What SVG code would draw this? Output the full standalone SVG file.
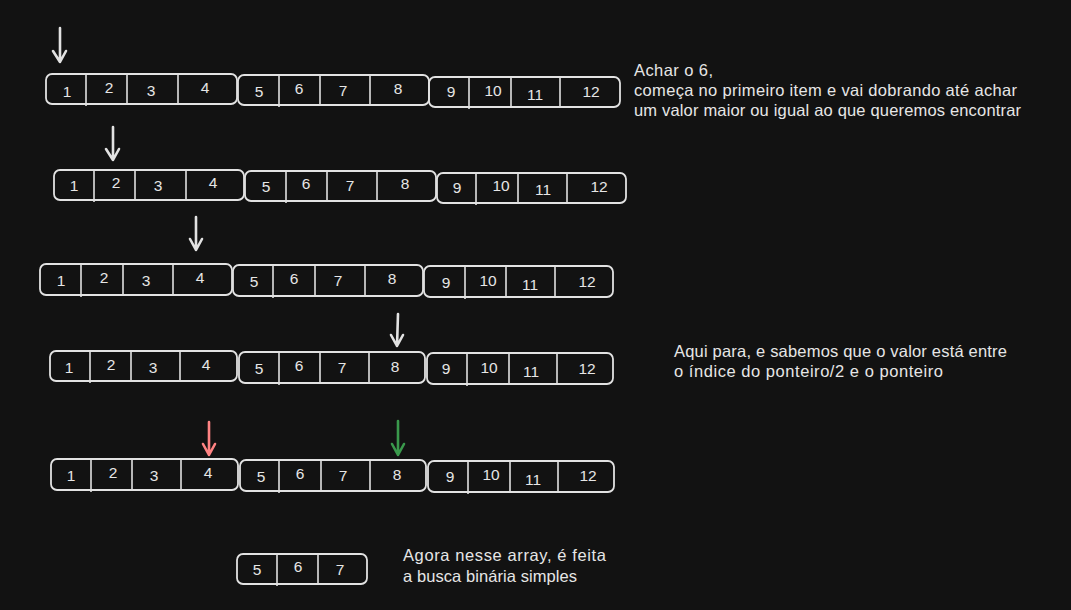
<svg xmlns="http://www.w3.org/2000/svg" width="1071" height="610" viewBox="0 0 1071 610">
<style>
.bx{fill:none;stroke:#e2e2e2;stroke-width:1.8}
.dv{stroke:#e2e2e2;stroke-width:1.6}
.n{font-family:"Liberation Sans",Arial,sans-serif;font-size:15.5px;fill:#e6e6e6;text-anchor:middle}
.t{font-family:"Liberation Sans",Arial,sans-serif;font-size:16.5px;fill:#e6e6e6}
.ar{fill:none;stroke-width:2.6;stroke-linecap:round;stroke-linejoin:round}
</style>
<rect width="1071" height="610" fill="#121212"/>
<g id="connectors">
<path class="ar" stroke="#e2e2e2" d="M60 28 L60 62 M53 51 L60 62 L66 51"/>
<path class="ar" stroke="#e2e2e2" d="M113 127 L113 160 M106 149 L113 160 L119 149"/>
<path class="ar" stroke="#e2e2e2" d="M196 217 L196 250 M190 239 L196 250 L202 239"/>
<path class="ar" stroke="#e2e2e2" d="M398 314 L397 346 M391 335 L397 346 L403 335"/>
<path class="ar" stroke="#ff8383" d="M209 422 L209 455 M203 444 L209 455 L215 444"/>
<path class="ar" stroke="#3a994c" d="M398 421 L398 455 M392 444 L398 455 L404 444"/>
</g>
<g id="row1">
<rect class="bx" x="46" y="74" width="191" height="30" rx="6"/>
<line class="dv" x1="86" y1="74" x2="86" y2="106"/><line class="dv" x1="127" y1="74" x2="127" y2="104"/><line class="dv" x1="178" y1="74" x2="178" y2="104"/>
<rect class="bx" x="238" y="75" width="191" height="30" rx="6"/>
<line class="dv" x1="279" y1="75" x2="279" y2="107"/><line class="dv" x1="320" y1="75" x2="320" y2="105"/><line class="dv" x1="370" y1="75" x2="370" y2="105"/>
<rect class="bx" x="429" y="77" width="191" height="30" rx="6"/>
<line class="dv" x1="469" y1="77" x2="469" y2="109"/><line class="dv" x1="511" y1="77" x2="511" y2="107"/><line class="dv" x1="560" y1="77" x2="560" y2="107"/>
<text class="n" x="67" y="97">1</text><text class="n" x="109" y="93">2</text><text class="n" x="151" y="96">3</text><text class="n" x="205" y="93">4</text>
<text class="n" x="259" y="97">5</text><text class="n" x="299" y="94">6</text><text class="n" x="343" y="96">7</text><text class="n" x="398" y="94">8</text>
<text class="n" x="451" y="97">9</text><text class="n" x="493" y="96">10</text><text class="n" x="535" y="100">11</text><text class="n" x="591" y="97">12</text>
</g>
<g id="row2">
<rect class="bx" x="54" y="170" width="190" height="30" rx="6"/>
<line class="dv" x1="94" y1="170" x2="94" y2="202"/><line class="dv" x1="135" y1="170" x2="135" y2="200"/><line class="dv" x1="186" y1="170" x2="186" y2="200"/>
<rect class="bx" x="245" y="171" width="191" height="30" rx="6"/>
<line class="dv" x1="286" y1="171" x2="286" y2="203"/><line class="dv" x1="327" y1="171" x2="327" y2="201"/><line class="dv" x1="377" y1="171" x2="377" y2="201"/>
<rect class="bx" x="437" y="173" width="189" height="30" rx="6"/>
<line class="dv" x1="476" y1="173" x2="476" y2="205"/><line class="dv" x1="518" y1="173" x2="518" y2="203"/><line class="dv" x1="567" y1="173" x2="567" y2="203"/>
<text class="n" x="74" y="191">1</text><text class="n" x="116" y="188">2</text><text class="n" x="158" y="191">3</text><text class="n" x="213" y="188">4</text>
<text class="n" x="266" y="192">5</text><text class="n" x="306" y="189">6</text><text class="n" x="350" y="191">7</text><text class="n" x="405" y="189">8</text>
<text class="n" x="457" y="193">9</text><text class="n" x="501" y="191">10</text><text class="n" x="543" y="195">11</text><text class="n" x="599" y="192">12</text>
</g>
<g id="row3">
<rect class="bx" x="40" y="264" width="192" height="31" rx="6"/>
<line class="dv" x1="81" y1="264" x2="81" y2="297"/><line class="dv" x1="123" y1="264" x2="123" y2="295"/><line class="dv" x1="173" y1="264" x2="173" y2="295"/>
<rect class="bx" x="233" y="265" width="190" height="31" rx="6"/>
<line class="dv" x1="273" y1="265" x2="273" y2="298"/><line class="dv" x1="315" y1="265" x2="315" y2="296"/><line class="dv" x1="365" y1="265" x2="365" y2="296"/>
<rect class="bx" x="424" y="266" width="189" height="31" rx="6"/>
<line class="dv" x1="465" y1="266" x2="465" y2="299"/><line class="dv" x1="506" y1="266" x2="506" y2="297"/><line class="dv" x1="555" y1="266" x2="555" y2="297"/>
<text class="n" x="61" y="286">1</text><text class="n" x="104" y="283">2</text><text class="n" x="146" y="286">3</text><text class="n" x="200" y="283">4</text>
<text class="n" x="254" y="287">5</text><text class="n" x="294" y="284">6</text><text class="n" x="338" y="286">7</text><text class="n" x="392" y="284">8</text>
<text class="n" x="446" y="288">9</text><text class="n" x="488" y="286">10</text><text class="n" x="530" y="290">11</text><text class="n" x="587" y="287">12</text>
</g>
<g id="row4">
<rect class="bx" x="50" y="351" width="187" height="30" rx="6"/>
<line class="dv" x1="90" y1="351" x2="90" y2="383"/><line class="dv" x1="131" y1="351" x2="131" y2="381"/><line class="dv" x1="180" y1="351" x2="180" y2="381"/>
<rect class="bx" x="239" y="352" width="186" height="31" rx="6"/>
<line class="dv" x1="279" y1="352" x2="279" y2="385"/><line class="dv" x1="320" y1="352" x2="320" y2="383"/><line class="dv" x1="369" y1="352" x2="369" y2="383"/>
<rect class="bx" x="427" y="353" width="186" height="31" rx="6"/>
<line class="dv" x1="467" y1="353" x2="467" y2="386"/><line class="dv" x1="509" y1="353" x2="509" y2="384"/><line class="dv" x1="557" y1="353" x2="557" y2="384"/>
<text class="n" x="69" y="373">1</text><text class="n" x="111" y="370">2</text><text class="n" x="153" y="373">3</text><text class="n" x="206" y="370">4</text>
<text class="n" x="259" y="374">5</text><text class="n" x="299" y="371">6</text><text class="n" x="342" y="373">7</text><text class="n" x="395" y="372">8</text>
<text class="n" x="446" y="374">9</text><text class="n" x="489" y="373">10</text><text class="n" x="531" y="377">11</text><text class="n" x="587" y="374">12</text>
</g>
<g id="row5">
<rect class="bx" x="51" y="459" width="187" height="31" rx="6"/>
<line class="dv" x1="91" y1="459" x2="91" y2="492"/><line class="dv" x1="132" y1="459" x2="132" y2="490"/><line class="dv" x1="181" y1="459" x2="181" y2="490"/>
<rect class="bx" x="240" y="460" width="186" height="31" rx="6"/>
<line class="dv" x1="279" y1="460" x2="279" y2="493"/><line class="dv" x1="321" y1="460" x2="321" y2="491"/><line class="dv" x1="370" y1="460" x2="370" y2="491"/>
<rect class="bx" x="428" y="461" width="186" height="31" rx="6"/>
<line class="dv" x1="468" y1="461" x2="468" y2="494"/><line class="dv" x1="510" y1="461" x2="510" y2="492"/><line class="dv" x1="558" y1="461" x2="558" y2="492"/>
<text class="n" x="71" y="481">1</text><text class="n" x="113" y="478">2</text><text class="n" x="154" y="481">3</text><text class="n" x="208" y="478">4</text>
<text class="n" x="261" y="482">5</text><text class="n" x="300" y="479">6</text><text class="n" x="343" y="481">7</text><text class="n" x="397" y="480">8</text>
<text class="n" x="450" y="482">9</text><text class="n" x="491" y="480">10</text><text class="n" x="533" y="485">11</text><text class="n" x="588" y="481">12</text>
</g>
<g id="row6">
<rect class="bx" x="237" y="554" width="130" height="30" rx="6"/>
<line class="dv" x1="277" y1="554" x2="277" y2="586"/><line class="dv" x1="318" y1="554" x2="318" y2="584"/>
<text class="n" x="257" y="575">5</text><text class="n" x="298" y="572">6</text><text class="n" x="340" y="575">7</text>
</g>
<g id="text1">
<text class="t" x="634" y="76" textLength="79" lengthAdjust="spacing">Achar o 6,</text>
<text class="t" x="634" y="96" textLength="383" lengthAdjust="spacing">começa no primeiro item e vai dobrando até achar</text>
<text class="t" x="634" y="116" textLength="387" lengthAdjust="spacing">um valor maior ou igual ao que queremos encontrar</text>
</g>
<g id="text2">
<text class="t" x="674" y="357" textLength="333" lengthAdjust="spacing">Aqui para, e sabemos que o valor está entre</text>
<text class="t" x="674" y="377" textLength="269" lengthAdjust="spacing">o índice do ponteiro/2 e o ponteiro</text>
</g>
<g id="text3">
<text class="t" x="403" y="561" textLength="203" lengthAdjust="spacing">Agora nesse array, é feita</text>
<text class="t" x="403" y="582" textLength="174" lengthAdjust="spacing">a busca binária simples</text>
</g>
</svg>
